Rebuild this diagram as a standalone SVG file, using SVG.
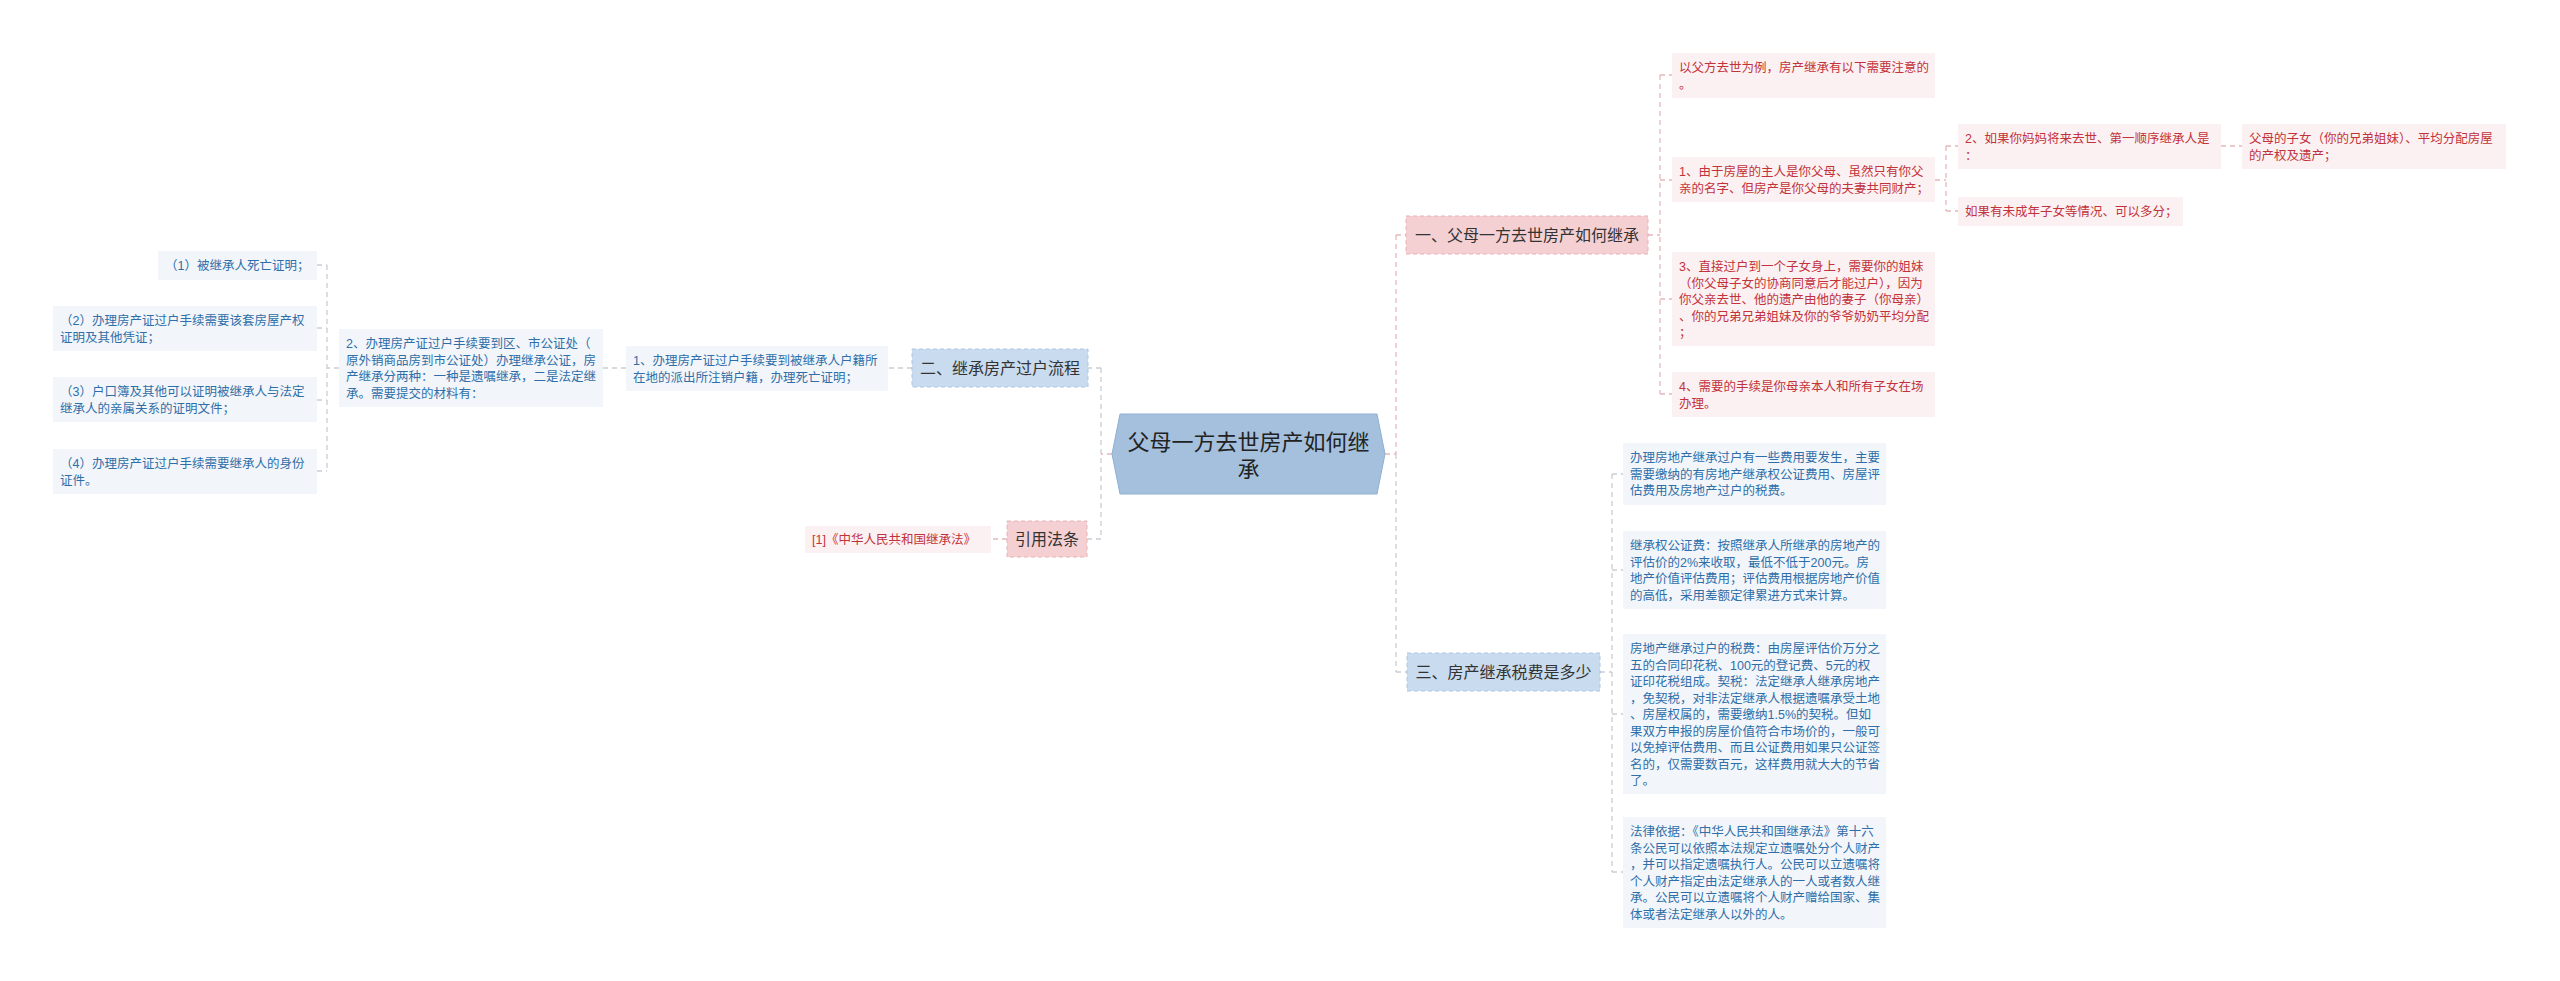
<svg xmlns="http://www.w3.org/2000/svg" width="2560" height="981" viewBox="0 0 2560 981">
<style>
text{font-family:"Liberation Sans","Noto Sans CJK SC",sans-serif}
.c{font-size:22px;fill:#222;text-anchor:middle}
.h{font-size:16px;fill:#333;text-anchor:middle}
.sp{font-size:12.5px;fill:#c2323a}
.sb{font-size:12.5px;fill:#2f6ea8}
.bp{fill:#fcf1f2}
.bb{fill:#f2f6fb}
.hp{fill:#f5d0d3;stroke:#e8b0b5;stroke-dasharray:4 3}
.hb{fill:#c9dbee;stroke:#adc6e0;stroke-dasharray:4 3}
.l{fill:none;stroke-width:1.3;stroke-dasharray:5 4}
.lp{stroke:#e3b8bc}
.lg{stroke:#c9cdd3}
</style>
<rect width="2560" height="981" fill="#fff"/>
<g id="connectors">
<path class="l lp" d="M1112,454H1101"/>
<path class="l lg" d="M1101,368V539M1101,368H1088M1101,539H1087"/>
<path class="l lg" d="M912,368H888M626,368H603M339,368H327M327,265V471M317,265H327M317,328H327M317,400H327M317,471H327"/>
<path class="l lp" d="M1007,539H991"/>
<path class="l lp" d="M1385,454H1396M1396,235V454M1396,235H1406"/>
<path class="l lg" d="M1396,454V672M1396,672H1407"/>
<path class="l lp" d="M1648,235H1660M1660,75V394M1660,75H1672M1660,180H1672M1660,299H1672M1660,394H1672"/>
<path class="l lp" d="M1935,180H1946M1946,146V211M1946,146H1958M1946,211H1958M2221,146H2242"/>
<path class="l lg" d="M1600,672H1612M1612,474V872M1612,474H1623M1612,570H1623M1612,714H1623M1612,872H1623"/>
</g>
<g id="root">
<polygon points="1112,454 1120,414 1377,414 1385,454 1377,494 1120,494" fill="#a4c0dd" stroke="#8fb0d3"/>
<text class="c" x="1248.5" y="450">父母一方去世房产如何继<tspan x="1248.5" y="477">承</tspan></text>
</g>
<g id="n1">
<rect class="hp" x="1406" y="216" width="242" height="38"/>
<text class="h" x="1527" y="241">一、父母一方去世房产如何继承</text>
</g>
<g id="n2">
<rect class="hb" x="912" y="349" width="176" height="38"/>
<text class="h" x="1000" y="374">二、继承房产过户流程</text>
</g>
<g id="n3">
<rect class="hb" x="1407" y="653" width="193" height="38"/>
<text class="h" x="1503.5" y="678">三、房产继承税费是多少</text>
</g>
<g id="n4">
<rect class="hp" x="1007" y="521" width="80" height="36"/>
<text class="h" x="1047" y="545">引用法条</text>
</g>
<g id="a1">
<rect class="bp" x="1672" y="53" width="263" height="45"/>
<text class="sp" x="1679" y="72">以父方去世为例，房产继承有以下需要注意的<tspan x="1679" dy="16.5">。</tspan></text>
</g>
<g id="a2">
<rect class="bp" x="1672" y="157" width="263" height="45"/>
<text class="sp" x="1679" y="176">1、由于房屋的主人是你父母、虽然只有你父<tspan x="1679" dy="16.5">亲的名字、但房产是你父母的夫妻共同财产；</tspan></text>
</g>
<g id="a3">
<rect class="bp" x="1672" y="252" width="263" height="94"/>
<text class="sp" x="1679" y="271">3、直接过户到一个子女身上，需要你的姐妹<tspan x="1679" dy="16.5">（你父母子女的协商同意后才能过户），因为</tspan><tspan x="1679" dy="16.5">你父亲去世、他的遗产由他的妻子（你母亲）</tspan><tspan x="1679" dy="16.5">、你的兄弟兄弟姐妹及你的爷爷奶奶平均分配</tspan><tspan x="1679" dy="16.5">；</tspan></text>
</g>
<g id="a4">
<rect class="bp" x="1672" y="372" width="263" height="45"/>
<text class="sp" x="1679" y="391">4、需要的手续是你母亲本人和所有子女在场<tspan x="1679" dy="16.5">办理。</tspan></text>
</g>
<g id="b1">
<rect class="bp" x="1958" y="124" width="263" height="45"/>
<text class="sp" x="1965" y="143">2、如果你妈妈将来去世、第一顺序继承人是<tspan x="1965" dy="16.5">：</tspan></text>
</g>
<g id="b2">
<rect class="bp" x="1958" y="197" width="225" height="29"/>
<text class="sp" x="1965" y="216">如果有未成年子女等情况、可以多分；</text>
</g>
<g id="c1">
<rect class="bp" x="2242" y="124" width="264" height="45"/>
<text class="sp" x="2249" y="143">父母的子女（你的兄弟姐妹）、平均分配房屋<tspan x="2249" dy="16.5">的产权及遗产；</tspan></text>
</g>
<g id="d1">
<rect class="bb" x="1623" y="443" width="263" height="62"/>
<text class="sb" x="1630" y="462">办理房地产继承过户有一些费用要发生，主要<tspan x="1630" dy="16.5">需要缴纳的有房地产继承权公证费用、房屋评</tspan><tspan x="1630" dy="16.5">估费用及房地产过户的税费。</tspan></text>
</g>
<g id="d2">
<rect class="bb" x="1623" y="531" width="263" height="78"/>
<text class="sb" x="1630" y="550">继承权公证费：按照继承人所继承的房地产的<tspan x="1630" dy="16.5">评估价的2%来收取，最低不低于200元。房</tspan><tspan x="1630" dy="16.5">地产价值评估费用；评估费用根据房地产价值</tspan><tspan x="1630" dy="16.5">的高低，采用差额定律累进方式来计算。</tspan></text>
</g>
<g id="d3">
<rect class="bb" x="1623" y="634" width="263" height="160"/>
<text class="sb" x="1630" y="653">房地产继承过户的税费：由房屋评估价万分之<tspan x="1630" dy="16.5">五的合同印花税、100元的登记费、5元的权</tspan><tspan x="1630" dy="16.5">证印花税组成。契税：法定继承人继承房地产</tspan><tspan x="1630" dy="16.5">，免契税，对非法定继承人根据遗嘱承受土地</tspan><tspan x="1630" dy="16.5">、房屋权属的，需要缴纳1.5%的契税。但如</tspan><tspan x="1630" dy="16.5">果双方申报的房屋价值符合市场价的，一般可</tspan><tspan x="1630" dy="16.5">以免掉评估费用、而且公证费用如果只公证签</tspan><tspan x="1630" dy="16.5">名的，仅需要数百元，这样费用就大大的节省</tspan><tspan x="1630" dy="16.5">了。</tspan></text>
</g>
<g id="d4">
<rect class="bb" x="1623" y="817" width="263" height="111"/>
<text class="sb" x="1630" y="836">法律依据：《中华人民共和国继承法》第十六<tspan x="1630" dy="16.5">条公民可以依照本法规定立遗嘱处分个人财产</tspan><tspan x="1630" dy="16.5">，并可以指定遗嘱执行人。公民可以立遗嘱将</tspan><tspan x="1630" dy="16.5">个人财产指定由法定继承人的一人或者数人继</tspan><tspan x="1630" dy="16.5">承。公民可以立遗嘱将个人财产赠给国家、集</tspan><tspan x="1630" dy="16.5">体或者法定继承人以外的人。</tspan></text>
</g>
<g id="e1">
<rect class="bb" x="626" y="346" width="262" height="45"/>
<text class="sb" x="633" y="365">1、办理房产证过户手续要到被继承人户籍所<tspan x="633" dy="16.5">在地的派出所注销户籍，办理死亡证明；</tspan></text>
</g>
<g id="e2">
<rect class="bb" x="339" y="329" width="264" height="78"/>
<text class="sb" x="346" y="348">2、办理房产证过户手续要到区、市公证处（<tspan x="346" dy="16.5">原外销商品房到市公证处）办理继承公证，房</tspan><tspan x="346" dy="16.5">产继承分两种：一种是遗嘱继承，二是法定继</tspan><tspan x="346" dy="16.5">承。需要提交的材料有：</tspan></text>
</g>
<g id="f1">
<rect class="bb" x="158" y="251" width="159" height="29"/>
<text class="sb" x="165" y="270">（1）被继承人死亡证明；</text>
</g>
<g id="f2">
<rect class="bb" x="53" y="306" width="264" height="45"/>
<text class="sb" x="60" y="325">（2）办理房产证过户手续需要该套房屋产权<tspan x="60" dy="16.5">证明及其他凭证；</tspan></text>
</g>
<g id="f3">
<rect class="bb" x="53" y="377" width="264" height="45"/>
<text class="sb" x="60" y="396">（3）户口簿及其他可以证明被继承人与法定<tspan x="60" dy="16.5">继承人的亲属关系的证明文件；</tspan></text>
</g>
<g id="f4">
<rect class="bb" x="53" y="449" width="264" height="45"/>
<text class="sb" x="60" y="468">（4）办理房产证过户手续需要继承人的身份<tspan x="60" dy="16.5">证件。</tspan></text>
</g>
<g id="g1">
<rect class="bp" x="805" y="526" width="186" height="27"/>
<text class="sp" x="812" y="544">[1]《中华人民共和国继承法》</text>
</g>
</svg>
